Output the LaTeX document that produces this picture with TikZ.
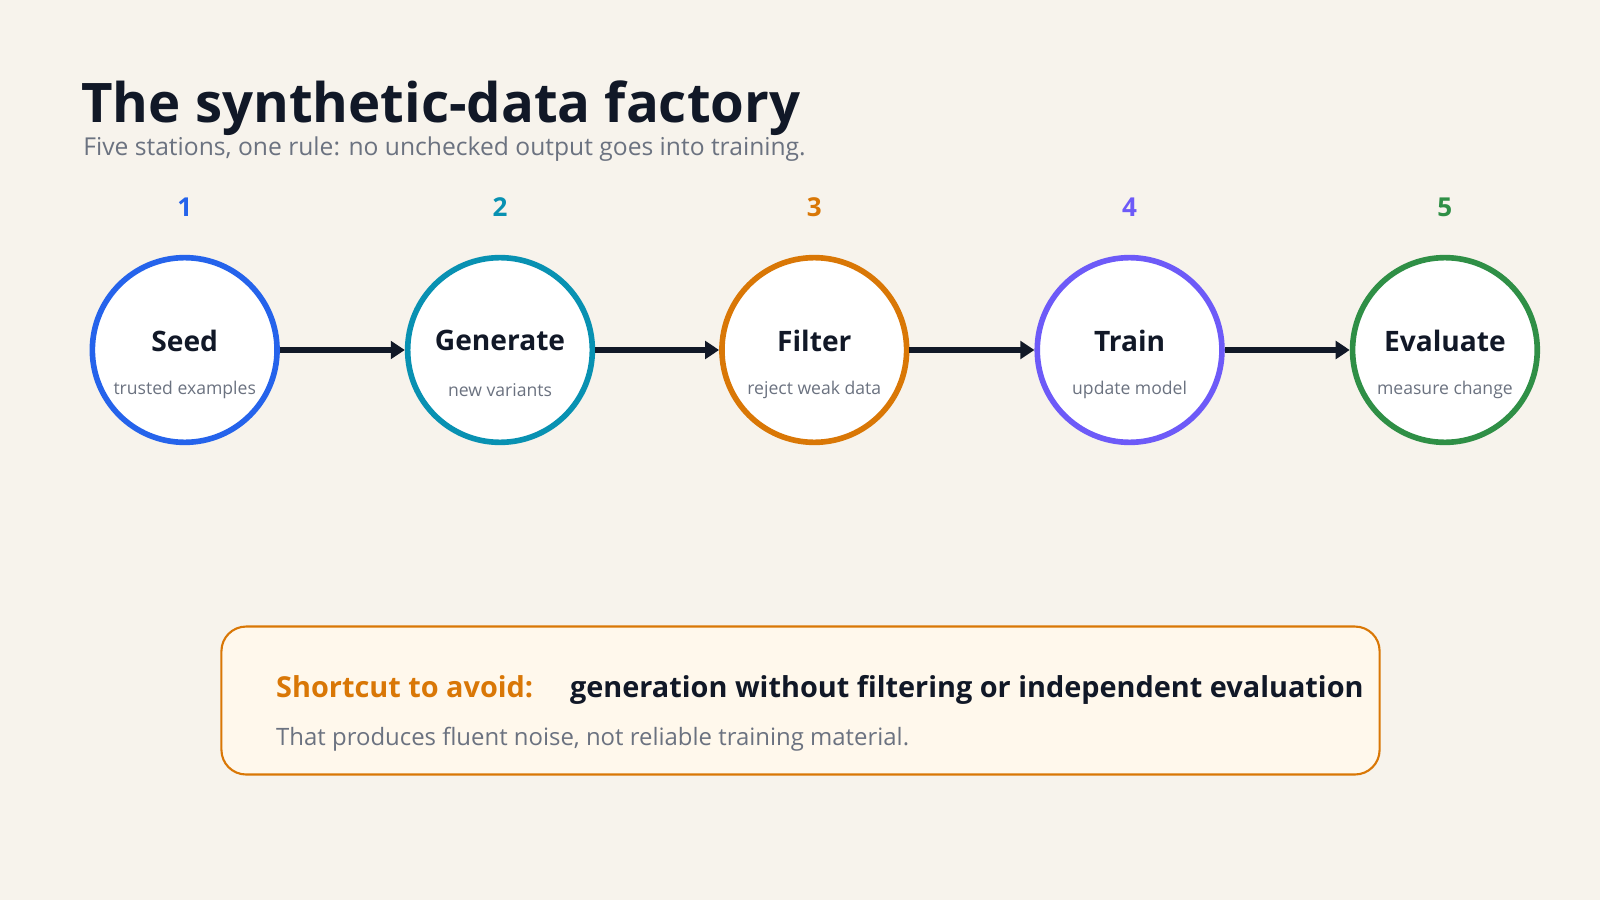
\documentclass[tikz,border=0pt]{standalone}
\usepackage{fontspec}
\setmainfont{Open Sans}
\usetikzlibrary{positioning,arrows.meta}
\definecolor{bg}{HTML}{F7F3EC}
\definecolor{ink}{HTML}{111827}
\definecolor{muted}{HTML}{6B7280}
\definecolor{cblue}{HTML}{2563EB}
\definecolor{cteal}{HTML}{0891B2}
\definecolor{corange}{HTML}{D97706}
\definecolor{cviolet}{HTML}{6D5AF8}
\definecolor{cgreen}{HTML}{2F8F46}
\definecolor{boxfill}{HTML}{FFF8EC}
\begin{document}
\begin{tikzpicture}[x=0.0102cm, y=-0.0102cm,
		station/.style = {draw, circle, fill=white, line width=1.6pt, minimum size=181*0.0102cm, inner sep=0pt},
		num/.style = {font=\bfseries\fontsize{7.4}{9}\selectfont},
		stname/.style = {font=\bfseries\fontsize{8}{10}\selectfont, text=ink},
		sub/.style = {font=\fontsize{5}{6.5}\selectfont, text=muted},
		txt/.style = {anchor=base west, inner sep=0pt},
		flow/.style = {draw=ink, line width=1.6pt, -{Triangle[length=4pt,width=5pt]}}]
		\fill[bg] (0,0) rectangle (1568,882);
		\node[txt, font=\bfseries\fontsize{15.5}{20}\selectfont, text=ink] (title) at (79,120) {The synthetic-data factory};
		\node[txt, font=\fontsize{7}{9}\selectfont, text=muted] (subtitle) at (81,152) {Five stations, one rule: no unchecked output goes into training.};
		\foreach \i/\x/\c/\n/\s in {1/181/cblue/Seed/trusted examples, 2/490/cteal/Generate/new variants, 3/798/corange/Filter/reject weak data, 4/1107/cviolet/Train/update model, 5/1416/cgreen/Evaluate/measure change} {
			\node[station, draw=\c] (s\i) at (\x,343) {};
			\node[num, text=\c] (n\i) at (\x,203) {\i};
			\node[stname] (t\i) at (\x,334) {\n};
			\node[sub] (d\i) at (\x,382) {\s};
		}
		\draw[flow] (s1) -- (s2);
		\draw[flow] (s2) -- (s3);
		\draw[flow] (s3) -- (s4);
		\draw[flow] (s4) -- (s5);
		\draw[corange, fill=boxfill, line width=0.6pt, rounded corners=7pt] (217,614) rectangle (1352,759);
		\node[txt, font=\bfseries\fontsize{8.2}{10}\selectfont, text=corange] (warn) at (270,684) {Shortcut to avoid:};
		\node[txt, font=\bfseries\fontsize{8.2}{10}\selectfont, text=ink] (rule) at (558,684) {generation without filtering or independent evaluation};
		\node[txt, font=\fontsize{6.8}{8.5}\selectfont, text=muted] (note) at (270,731) {That produces fluent noise, not reliable training material.};
	\end{tikzpicture}
\end{document}
